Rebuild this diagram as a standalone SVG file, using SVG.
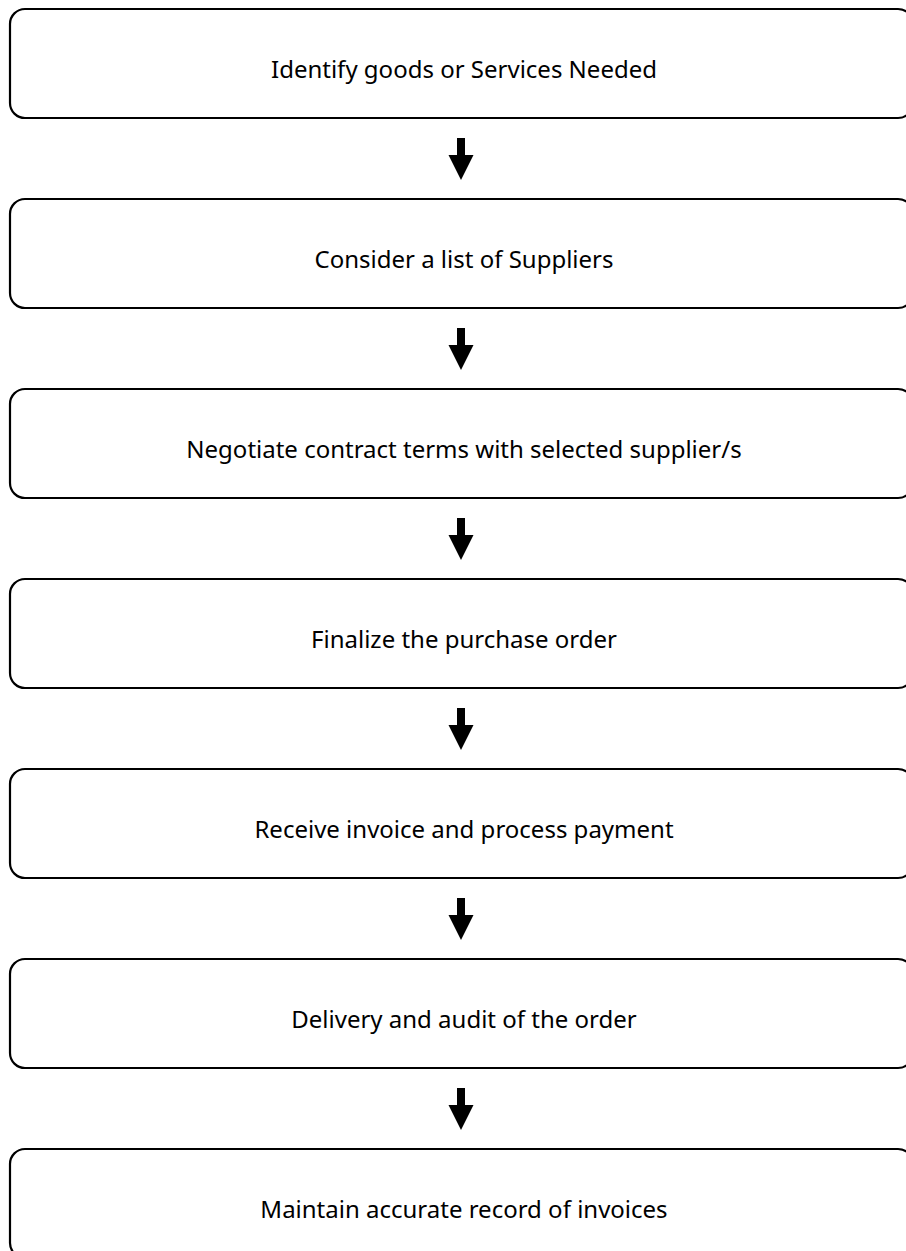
<svg xmlns="http://www.w3.org/2000/svg" width="906" height="1251" viewBox="0 0 906 1251">
  <defs>
    <style>
      .box { fill: #ffffff; stroke: #000000; stroke-width: 2.2; }
      .label { font-family: "Noto Sans", "Open Sans", sans-serif; font-size: 24px; fill: #000000; text-anchor: middle; }
      .arrow { fill: #000000; stroke: none; }
    </style>
    <path id="down-arrow" class="arrow" d="M-4,0 H4 V17 H12.5 L0,42 L-12.5,17 H-4 Z"/>
  </defs>
  <rect width="906" height="1251" fill="#ffffff"/>

  <g id="connectors">
    <use href="#down-arrow" x="461" y="138"/>
    <use href="#down-arrow" x="461" y="328"/>
    <use href="#down-arrow" x="461" y="518"/>
    <use href="#down-arrow" x="461" y="708"/>
    <use href="#down-arrow" x="461" y="898"/>
    <use href="#down-arrow" x="461" y="1088"/>
  </g>

  <g id="step1">
    <rect class="box" x="10" y="9" width="903" height="109" rx="15"/>
    <text class="label" x="464" y="78">Identify goods or Services Needed</text>
  </g>
  <g id="step2">
    <rect class="box" x="10" y="199" width="903" height="109" rx="15"/>
    <text class="label" x="464" y="268">Consider a list of Suppliers</text>
  </g>
  <g id="step3">
    <rect class="box" x="10" y="389" width="903" height="109" rx="15"/>
    <text class="label" x="464" y="458">Negotiate contract terms with selected supplier/s</text>
  </g>
  <g id="step4">
    <rect class="box" x="10" y="579" width="903" height="109" rx="15"/>
    <text class="label" x="464" y="648">Finalize the purchase order</text>
  </g>
  <g id="step5">
    <rect class="box" x="10" y="769" width="903" height="109" rx="15"/>
    <text class="label" x="464" y="838">Receive invoice and process payment</text>
  </g>
  <g id="step6">
    <rect class="box" x="10" y="959" width="903" height="109" rx="15"/>
    <text class="label" x="464" y="1028">Delivery and audit of the order</text>
  </g>
  <g id="step7">
    <rect class="box" x="10" y="1149" width="903" height="109" rx="15"/>
    <text class="label" x="464" y="1218">Maintain accurate record of invoices</text>
  </g>
</svg>
